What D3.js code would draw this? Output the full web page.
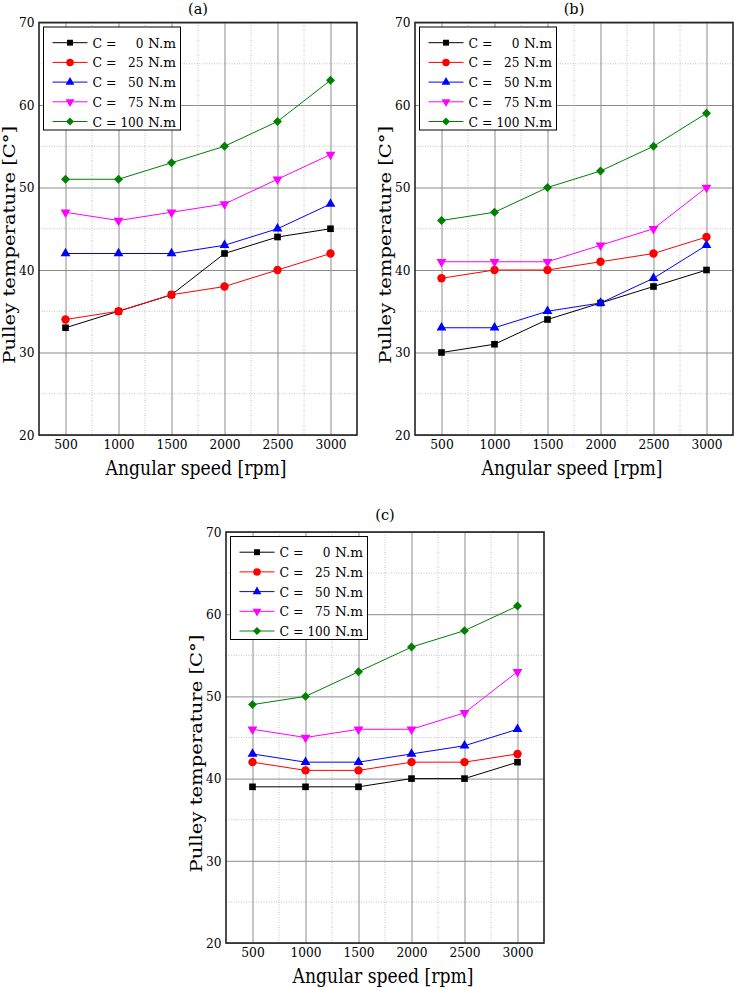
<!DOCTYPE html>
<html><head><meta charset="utf-8">
<script src="https://cdn.jsdelivr.net/npm/d3@7"></script>
<style>
body{margin:0;background:#fff}
svg{display:block}
text{font-family:"DejaVu Serif",serif;fill:#000}
</style>
</head><body>
<svg id="chart" width="735" height="987"></svg>
<script>
// ---- data ----
const speeds = [500, 1000, 1500, 2000, 2500, 3000];
const torques = [0, 25, 50, 75, 100];
const seriesColors = ["#000000", "#ff0000", "#0000ff", "#ff00ff", "#008000"];
const markerKinds = ["square", "circle", "triangle", "triangleDown", "diamond"];
const xTicks = [500, 1000, 1500, 2000, 2500, 3000];
const xMinorTicks = [750, 1250, 1750, 2250, 2750];
const yTicks = [20, 30, 40, 50, 60, 70];
const yMinorTicks = [25, 35, 45, 55, 65];
const panelLabels = ["(a)", "(b)", "(c)"];
const xTitle = "Angular speed [rpm]";
const yTitle = "Pulley temperature [C°]";

// panel (a): rows = torque 0,25,50,75,100
const tempA = [
  [33, 35, 37, 42, 44, 45],
  [34, 35, 37, 38, 40, 42],
  [42, 42, 42, 43, 45, 48],
  [47, 46, 47, 48, 51, 54],
  [51, 51, 53, 55, 58, 63]
];
// panel (b)
const tempB = [
  [30, 31, 34, 36, 38, 40],
  [39, 40, 40, 41, 42, 44],
  [33, 33, 35, 36, 39, 43],
  [41, 41, 41, 43, 45, 50],
  [46, 47, 50, 52, 55, 59]
];
// panel (c)
const tempC = [
  [39, 39, 39, 40, 40, 42],
  [42, 41, 41, 42, 42, 43],
  [43, 42, 42, 43, 44, 46],
  [46, 45, 46, 46, 48, 53],
  [49, 50, 53, 56, 58, 61]
];

// ---- layout ----
const panels = [
  {data: tempA, left: 39, top: 22.5, w: 318, h: 412.5, label: panelLabels[0], labelDy: 8.5},
  {data: tempB, left: 415, top: 22.5, w: 318, h: 412.5, label: panelLabels[1], labelDy: 8.5},
  {data: tempC, left: 226, top: 532, w: 318, h: 411, label: panelLabels[2], labelDy: 12}
];

const svg = d3.select("#chart");

const symbolFor = {
  square: {type: d3.symbolSquare, size: 44, rot: 0},
  circle: {type: d3.symbolCircle, size: 55, rot: 0},
  triangle: {type: d3.symbolTriangle, size: 42, rot: 0},
  triangleDown: {type: d3.symbolTriangle, size: 42, rot: 180},
  diamond: {type: d3.symbolSquare, size: 40, rot: 45}
};

panels.forEach(p => {
  const g = svg.append("g").attr("transform", `translate(${p.left},${p.top})`);
  const x = d3.scaleLinear().domain([250, 3250]).range([0, p.w]);
  const y = d3.scaleLinear().domain([20, 70]).range([p.h, 0]);

  // minor grid (dotted)
  g.append("g").selectAll("line").data(xMinorTicks).join("line")
    .attr("x1", d => x(d)).attr("x2", d => x(d)).attr("y1", 0).attr("y2", p.h)
    .attr("stroke", "#c4c4c4").attr("stroke-width", 1).attr("stroke-dasharray", "1,1.5");
  g.append("g").selectAll("line").data(yMinorTicks).join("line")
    .attr("y1", d => y(d)).attr("y2", d => y(d)).attr("x1", 0).attr("x2", p.w)
    .attr("stroke", "#c4c4c4").attr("stroke-width", 1).attr("stroke-dasharray", "1,1.5");

  // major grid via axes
  const xGrid = d3.axisBottom(x).tickValues(xTicks).tickSize(-p.h).tickFormat("");
  g.append("g").attr("transform", `translate(0,${p.h})`).call(xGrid)
    .call(s => s.select(".domain").remove())
    .call(s => s.selectAll("line").attr("stroke", "#8c8c8c").attr("stroke-width", 1));
  const yGrid = d3.axisLeft(y).tickValues(yTicks).tickSize(-p.w).tickFormat("");
  g.append("g").call(yGrid)
    .call(s => s.select(".domain").remove())
    .call(s => s.selectAll("line").attr("stroke", "#8c8c8c").attr("stroke-width", 1));

  // axis labels
  const xAxis = d3.axisBottom(x).tickValues(xTicks).tickSize(0).tickPadding(4.5).tickFormat(d3.format("d"));
  g.append("g").attr("transform", `translate(0,${p.h})`).call(xAxis)
    .call(s => s.select(".domain").remove())
    .call(s => s.selectAll("text").attr("font-size", 13).attr("font-family", "DejaVu Serif").attr("fill", "#000")
      .attr("textLength", 31).attr("lengthAdjust", "spacingAndGlyphs")
      .filter(d => d < 1000).attr("textLength", 23.5));
  const yAxis = d3.axisLeft(y).tickValues(yTicks).tickSize(0).tickPadding(4.5).tickFormat(d3.format("d"));
  g.append("g").call(yAxis)
    .call(s => s.select(".domain").remove())
    .call(s => s.selectAll("text").attr("font-size", 13.5).attr("font-family", "DejaVu Serif").attr("fill", "#000")
      .attr("textLength", 15.5).attr("lengthAdjust", "spacingAndGlyphs"));

  // series
  const line = d3.line().x((d, i) => x(speeds[i])).y(d => y(d));
  p.data.forEach((vals, si) => {
    g.append("path").datum(vals).attr("d", line)
      .attr("fill", "none").attr("stroke", seriesColors[si]).attr("stroke-width", 1);
    const sym = symbolFor[markerKinds[si]];
    g.append("g").selectAll("path").data(vals).join("path")
      .attr("transform", (d, i) => `translate(${x(speeds[i])},${y(d)}) rotate(${sym.rot})`)
      .attr("d", d3.symbol().type(sym.type).size(sym.size))
      .attr("fill", seriesColors[si]);
  });

  // frame
  g.append("rect").attr("x", 0).attr("y", 0).attr("width", p.w).attr("height", p.h)
    .attr("fill", "none").attr("stroke", "#222").attr("stroke-width", 1.6);

  // legend
  const lg = g.append("g").attr("transform", "translate(4.5,4.5)");
  lg.append("rect").attr("width", 137).attr("height", 103)
    .attr("fill", "#fff").attr("stroke", "#000").attr("stroke-width", 1);
  torques.forEach((t, si) => {
    const yy = 15.7 + si * 19.7;
    lg.append("line").attr("x1", 9).attr("x2", 44).attr("y1", yy).attr("y2", yy)
      .attr("stroke", seriesColors[si]).attr("stroke-width", 1);
    const sym = symbolFor[markerKinds[si]];
    lg.append("path").attr("transform", `translate(26.5,${yy}) rotate(${sym.rot})`)
      .attr("d", d3.symbol().type(sym.type).size(sym.size * 0.8)).attr("fill", seriesColors[si]);
    lg.append("text").attr("x", 49).attr("y", yy + 5).attr("font-size", 13.5)
      .attr("textLength", 24).attr("lengthAdjust", "spacingAndGlyphs").text("C =");
    lg.append("text").attr("x", 100).attr("y", yy + 5).attr("font-size", 13.5).attr("text-anchor", "end")
      .attr("textLength", String(t).length * 7.7).attr("lengthAdjust", "spacingAndGlyphs").text(t);
    lg.append("text").attr("x", 104.5).attr("y", yy + 5).attr("font-size", 13.5)
      .attr("textLength", 28).attr("lengthAdjust", "spacingAndGlyphs").text("N.m");
  });

  // titles
  svg.append("text").attr("x", p.left + p.w / 2).attr("y", p.top - p.labelDy).attr("text-anchor", "middle")
    .attr("font-size", 14.5).text(p.label);
  svg.append("text").attr("x", p.left + p.w / 2 - 2).attr("y", p.top + p.h + 40).attr("text-anchor", "middle")
    .attr("font-size", 20).attr("textLength", 181).attr("lengthAdjust", "spacingAndGlyphs")
    .text(xTitle);
  svg.append("text").attr("transform", `translate(${p.left - 24.5},${p.top + p.h / 2 + 16}) rotate(-90)`)
    .attr("text-anchor", "middle").attr("font-size", 17.5).attr("textLength", 238).attr("lengthAdjust", "spacingAndGlyphs")
    .text(yTitle);
});
</script>
</body></html>
